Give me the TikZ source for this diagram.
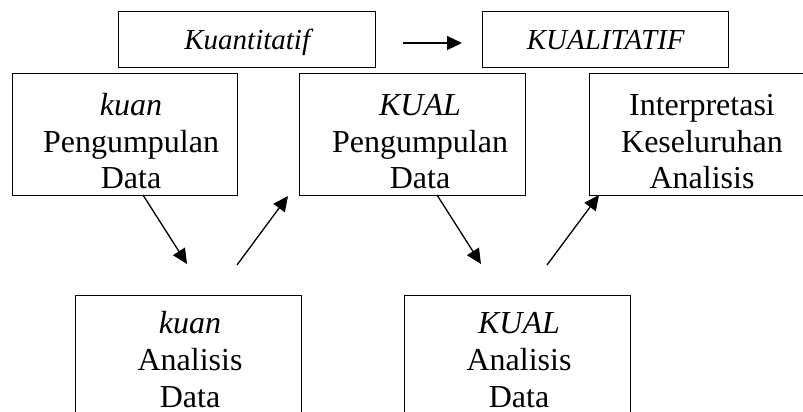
\documentclass[tikz,border=0pt]{standalone}
\usepackage{fontspec}
\setmainfont{Liberation Serif}
\usetikzlibrary{arrows.meta}
\begin{document}
\begin{tikzpicture}[x=1pt,y=-1pt,
  box/.style={draw, line width=1.4pt, inner sep=0pt, anchor=north west},
  bodytext/.style={inner sep=0pt, anchor=north, align=center, font=\fontsize{32}{36.8}\selectfont},
  toptext/.style={font=\fontsize{29}{33}\selectfont\itshape, text height=20pt, text depth=0pt},
  arr/.style={line width=1.3pt, -{Triangle[length=15pt,width=14pt]}}]
\useasboundingbox (0,0) rectangle (803,412);
% top row
\node[box, toptext, minimum width=257pt, minimum height=56pt] (tq) at (118,11) {Kuantitatif};
\node[box, toptext, minimum width=246pt, minimum height=56pt] (tk) at (482,11) {KUALITATIF};
\coordinate (hs) at (403,43);
\coordinate (he) at (462,43);
\draw[arr] (hs) -- (he);
% second row
\node[box, minimum width=225pt, minimum height=122pt] (kp) at (12,73) {};
\node[bodytext] (kpt) at (131,89.24) {\strut\textit{kuan}\\Pengumpulan\\Data};
\node[box, minimum width=226pt, minimum height=122pt] (qp) at (299,73) {};
\node[bodytext] (qpt) at (420,89.24) {\strut\textit{KUAL}\\Pengumpulan\\Data};
\node[box, minimum width=226pt, minimum height=122pt] (ik) at (589,73) {};
\node[bodytext] (ikt) at (702,89.24) {\strut Interpretasi\\Keseluruhan\\Analisis};
% bottom row
\node[box, minimum width=226pt, minimum height=140pt] (ka) at (75,295) {};
\node[bodytext] (kat) at (190,307.5) {\strut\textit{kuan}\\Analisis\\Data};
\node[box, minimum width=226pt, minimum height=140pt] (qa) at (404,295) {};
\node[bodytext] (qat) at (519,307.5) {\strut\textit{KUAL}\\Analisis\\Data};
% diagonal arrows
\coordinate (a1s) at (143,195);
\coordinate (a1e) at (187,264);
\coordinate (a2s) at (237,265);
\coordinate (a2e) at (288,196);
\coordinate (a3s) at (437,195);
\coordinate (a3e) at (481,264);
\coordinate (a4s) at (547,265);
\coordinate (a4e) at (599,195);
\draw[arr] (a1s) -- (a1e);
\draw[arr] (a2s) -- (a2e);
\draw[arr] (a3s) -- (a3e);
\draw[arr] (a4s) -- (a4e);
\end{tikzpicture}
\end{document}
